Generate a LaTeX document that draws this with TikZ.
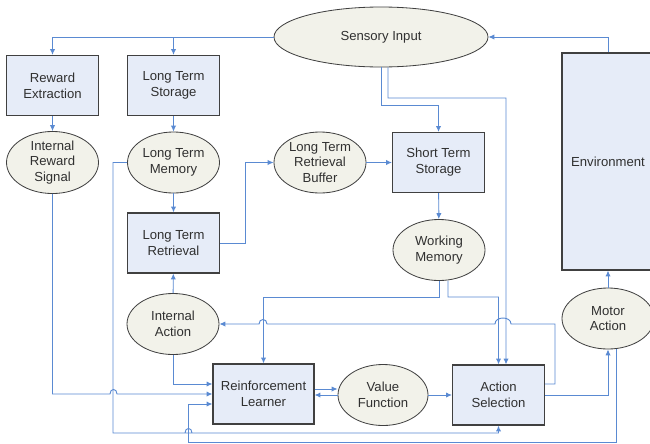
\documentclass[tikz,border=0pt]{standalone}
\usepackage{fontspec}
\setmainfont{Liberation Sans}
\usetikzlibrary{arrows.meta,shapes.geometric}
\definecolor{boxfill}{HTML}{E6ECF8}
\definecolor{ovalfill}{HTML}{F2F2EA}
\definecolor{linkblue}{HTML}{5A8AD2}
\definecolor{rimgray}{HTML}{404040}
\definecolor{textgray}{HTML}{303030}
\tikzset{
	box/.style={draw=rimgray, line width=1pt, fill=boxfill, minimum width=2.76cm, minimum height=1.8cm,
		align=center, inner sep=0pt, text=textgray, font=\fontsize{11.2}{13.5}\selectfont},
	oval/.style={ellipse, draw=rimgray, line width=0.7pt, fill=ovalfill, minimum width=2.76cm, minimum height=1.83cm,
		align=center, inner sep=0pt, text=textgray, font=\fontsize{11.2}{13.5}\selectfont},
	link/.style={draw=linkblue, line width=0.8pt, -{Latex[length=5pt,width=4.5pt]}},
}
\begin{document}
\begin{tikzpicture}[x=0.03cm,y=-0.03cm]
	\fill[white] (0,0) rectangle (650,443);
	\useasboundingbox (0,0) rectangle (650,443);
	% boxes and ovals
	\node[oval, minimum width=6.42cm, minimum height=1.8cm] (si) at (381,37) {Sensory Input};
	\node[box] (rew) at (52.5,85.5) {Reward\\Extraction};
	\node[box] (lts) at (173.5,85.5) {Long Term\\Storage};
	\node[oval] (irs) at (52.5,162.5) {Internal\\Reward\\Signal};
	\node[oval] (ltm) at (173.5,162.5) {Long Term\\Memory};
	\node[oval] (ltrb) at (320,162.5) {Long Term\\Retrieval\\Buffer};
	\node[box] (sts) at (438.5,162.5) {Short Term\\Storage};
	\node[box, minimum height=6.51cm] (env) at (608,161.5) {Environment};
	\node[box] (ltr) at (173.5,243) {Long Term\\Retrieval};
	\node[oval] (wm) at (439,250) {Working\\Memory};
	\node[oval] (ia) at (173,324) {Internal\\Action};
	\node[oval] (ma) at (608,318.5) {Motor\\Action};
	\node[box, minimum width=3.03cm] (rl) at (263.5,394) {Reinforcement\\Learner};
	\node[oval, minimum width=2.7cm] (vf) at (383,395) {Value\\Function};
	\node[box] (as) at (498.5,395) {Action\\Selection};
	% sensory paths
	\draw[link] (si.west) -| (rew.north);
	\draw[link] (si.west -| lts.north) -- (lts.north);
	\draw[link] (env.north) |- (si.east);
	\draw[link] (si.south) -- (381,105) -| (sts.north);
	\draw[link] ([xshift=0.21cm]si.south) -- (388,98) -| ([xshift=0.225cm]as.north);
	% straight links
	\draw[link] (rew) -- (irs);
	\draw[link] (lts) -- (ltm);
	\draw[link] (ltm) -- (ltr);
	\draw[link] (ia) -- (ltr);
	\draw[link] (sts) -- (wm);
	\draw[link] (ma) -- (env);
	\draw[link] (ltrb) -- (sts);
	\draw[link] (vf) -- (as);
	\draw[link] (ltr.east) -- (245,243) |- (ltrb.west);
	\draw[link] ([yshift=0.15cm]rl.east) -- ([yshift=0.15cm]rl.east -| vf.west);
	\draw[link] (vf.west) -- (vf.west -| rl.east);
	% working memory
	\draw[link] (wm.south) -- (439,297) -| (rl.north);
	\draw[link] ([xshift=0.27cm]wm.south) -- (448,297) -| (as.north);
	% action selection
	\draw[link] ([yshift=0.33cm]as.east) -- (555,384) -- (555,324) -- (511,324)
		.. controls (511,316) and (495,316) .. (495,324) -- (267,324)
		.. controls (267,318) and (259,318) .. (259,324) -- (ia.east);
	\draw[link] (as.east) -| (ma.south);
	% feedback into learner
	\draw[link] (ltm.west) -- (113,162.5) -- (113,433) -- (192,433)
		.. controls (192,427) and (185,427) .. (185,433) -- (185,433) -| (as.south);
	\draw[link] (irs.south) |- (110,394) .. controls (110,388) and (117,388) .. (117,394) -- (rl.west);
	\draw[link] (ia.south) |- ([yshift=0.3cm]rl.west);
	\draw[link] ([xshift=0.24cm]ma.south) |- (188,442) |- ([yshift=-0.3cm]rl.west);
\end{tikzpicture}
\end{document}
